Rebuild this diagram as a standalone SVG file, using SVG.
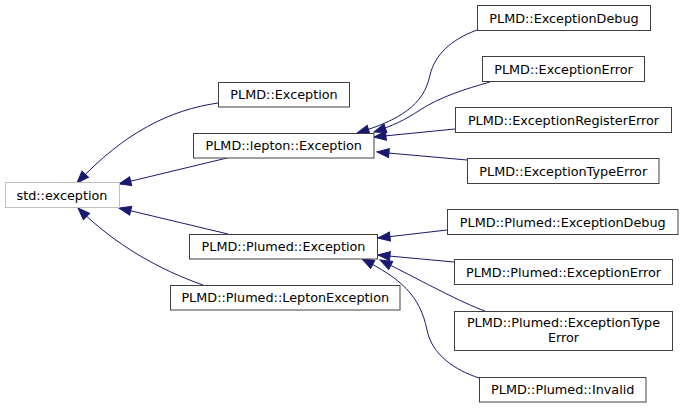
<svg xmlns="http://www.w3.org/2000/svg" width="684" height="408" viewBox="0 0 684 408">
<style>
.n rect{fill:#ffffff;stroke:#404040;stroke-width:1}
.n.ext rect{stroke:#bfbfbf}
.n text{font-family:"DejaVu Sans","Liberation Sans",sans-serif;font-size:12.8px;fill:#000000;text-anchor:middle}
.e path{fill:none;stroke:#191970;stroke-width:1;marker-end:url(#arr)}
</style>
<defs>
<marker id="arr" markerUnits="userSpaceOnUse" viewBox="0 0 13 10" markerWidth="13" markerHeight="10" refX="12.5" refY="5" orient="auto" overflow="visible">
<path d="M0.5,0.5 L12.5,5 L0.5,9.5 Z" fill="#191970" stroke="#191970" stroke-width="1"/>
</marker>
</defs>
<rect width="684" height="408" fill="#ffffff"/>
<g id="connectors" class="e">
<path d="M218,103 C170,110 125,132 77,183"/>
<path d="M227,158 L119,184"/>
<path d="M228,234 L119,208"/>
<path d="M203,285 C160,270 115,245 78,208"/>
<path d="M477,30 C450,40 435,55 430,75 C424,105 400,120 357,133"/>
<path d="M490,82 C465,89 440,97 420,110 C405,120 392,126 374,132"/>
<path d="M455,129 L374,137"/>
<path d="M467,160 L377,152"/>
<path d="M447,230 L378,238"/>
<path d="M454,262 L378,255"/>
<path d="M485,311 C460,302 430,285 380,260"/>
<path d="M479,378 C455,370 432,355 427,330 C420,295 400,278 362,259"/>
</g>
<g id="std_exception" class="n ext"><rect x="5.5" y="182.5" width="114" height="25"/><text x="62" y="199.5">std::exception</text></g>
<g id="PLMD_Exception" class="n"><rect x="218.5" y="82.5" width="131" height="24.5"/><text x="284" y="99">PLMD::Exception</text></g>
<g id="PLMD_lepton_Exception" class="n"><rect x="193.5" y="133.5" width="180.5" height="24.5"/><text x="283.75" y="150">PLMD::lepton::Exception</text></g>
<g id="PLMD_Plumed_Exception" class="n"><rect x="189.5" y="234.5" width="188" height="24.5"/><text x="283.5" y="251">PLMD::Plumed::Exception</text></g>
<g id="PLMD_Plumed_LeptonException" class="n"><rect x="170.5" y="285.5" width="229.5" height="24.5"/><text x="285.25" y="302">PLMD::Plumed::LeptonException</text></g>
<g id="PLMD_ExceptionDebug" class="n"><rect x="477.5" y="5.5" width="173" height="25"/><text x="564" y="22.5">PLMD::ExceptionDebug</text></g>
<g id="PLMD_ExceptionError" class="n"><rect x="482.5" y="56.5" width="162" height="25"/><text x="563.5" y="73.5">PLMD::ExceptionError</text></g>
<g id="PLMD_ExceptionRegisterError" class="n"><rect x="455.5" y="107.5" width="216" height="25"/><text x="563.5" y="124.5">PLMD::ExceptionRegisterError</text></g>
<g id="PLMD_ExceptionTypeError" class="n"><rect x="467.5" y="158.5" width="191.5" height="25"/><text x="563.25" y="175.5">PLMD::ExceptionTypeError</text></g>
<g id="PLMD_Plumed_ExceptionDebug" class="n"><rect x="447.5" y="209.5" width="230.5" height="25"/><text x="562.75" y="226.5">PLMD::Plumed::ExceptionDebug</text></g>
<g id="PLMD_Plumed_ExceptionError" class="n"><rect x="454.5" y="259.5" width="218" height="25"/><text x="563.5" y="276.5">PLMD::Plumed::ExceptionError</text></g>
<g id="PLMD_Plumed_ExceptionTypeError" class="n"><rect x="454.5" y="311.5" width="218" height="39"/><text x="563.5" y="327">PLMD::Plumed::ExceptionType</text><text x="563.5" y="341.5">Error</text></g>
<g id="PLMD_Plumed_Invalid" class="n"><rect x="479.5" y="377.5" width="166.5" height="24.5"/><text x="562.75" y="394">PLMD::Plumed::Invalid</text></g>
</svg>
